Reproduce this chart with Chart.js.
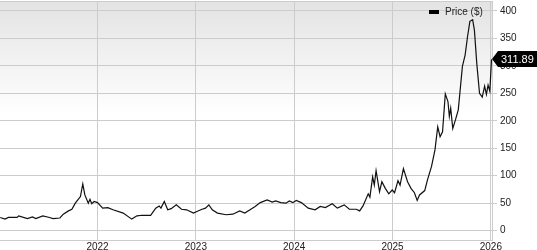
<!DOCTYPE html>
<html>
<head>
<meta charset="utf-8">
<script src="https://cdn.jsdelivr.net/npm/chart.js@4/dist/chart.umd.min.js"></script>
<style>
  html, body { margin: 0; padding: 0; background: #fff; }
</style>
</head>
<body>
<canvas id="priceChart" width="537" height="250"></canvas>
<script>
// Price history (decimal years)
const dates = [
  2021.01, 2021.059, 2021.094, 2021.181, 2021.199, 2021.286, 2021.338, 2021.373, 2021.443, 2021.512,
  2021.547, 2021.617, 2021.652, 2021.704, 2021.739, 2021.774, 2021.826, 2021.850, 2021.871, 2021.906,
  2021.923, 2021.941, 2021.965, 2022.000, 2022.052, 2022.105, 2022.157, 2022.261, 2022.348, 2022.401,
  2022.453, 2022.540, 2022.592, 2022.627, 2022.645, 2022.679, 2022.714, 2022.749, 2022.801, 2022.854,
  2022.906, 2022.976, 2023.010, 2023.063, 2023.098, 2023.132, 2023.167, 2023.220, 2023.307, 2023.376,
  2023.446, 2023.498, 2023.551, 2023.603, 2023.655, 2023.725, 2023.777, 2023.812, 2023.864, 2023.916,
  2023.951, 2023.986, 2024.021, 2024.073, 2024.143, 2024.213, 2024.265, 2024.317, 2024.387, 2024.439,
  2024.509, 2024.561, 2024.631, 2024.666, 2024.700, 2024.753, 2024.770, 2024.798, 2024.815, 2024.833,
  2024.868, 2024.892, 2024.927, 2024.962, 2024.997, 2025.021, 2025.056, 2025.077, 2025.111, 2025.153,
  2025.188, 2025.223, 2025.251, 2025.275, 2025.328, 2025.355, 2025.397, 2025.432, 2025.460, 2025.484,
  2025.509, 2025.537, 2025.564, 2025.578, 2025.592, 2025.613, 2025.641, 2025.669, 2025.711, 2025.739,
  2025.763, 2025.787, 2025.815, 2025.833, 2025.857, 2025.885, 2025.913, 2025.937, 2025.955, 2025.972,
  2025.990, 2026.007
];
const prices = [
  24, 21, 24, 24, 27, 22, 25, 22, 27, 24,
  22, 23, 30, 36, 39, 50, 62, 85, 65, 50,
  57, 49, 53, 51, 41, 42, 38, 32, 21, 27,
  28, 28, 41, 45, 41, 53, 38, 40, 47, 39,
  38, 32, 35, 39, 41, 47, 38, 32, 29, 30,
  36, 32, 38, 44, 51, 56, 52, 54, 51, 50,
  54, 51, 55, 51, 41, 38, 44, 42, 49, 41,
  47, 39, 39, 36, 45, 67, 61, 98, 83, 109,
  71, 89, 77, 67, 74, 69, 91, 83, 113, 89,
  77, 69, 55, 65, 73, 92, 117, 147, 189, 171,
  180, 249, 235, 208, 223, 186, 202, 220, 299, 320,
  353, 381, 384, 365, 305, 250, 243, 263, 248, 265,
  254, 311.89
];
const yearTicks = [2022, 2023, 2024, 2025, 2026];
const priceTicks = [0, 50, 100, 150, 200, 250, 300, 350, 400];
const seriesLabel = 'Price ($)';

const FONT = 'Liberation Sans, Arial, Helvetica, sans-serif';
const GRID = '#cccccc';

// gray-to-white gradient behind the plot
const plotBackground = {
  id: 'plotBackground',
  beforeDraw(chart) {
    const { ctx, chartArea: a } = chart;
    const g = ctx.createLinearGradient(0, a.top, 0, a.bottom);
    g.addColorStop(0, '#e3e3e3');
    g.addColorStop(0.47, '#ffffff');
    g.addColorStop(1, '#ffffff');
    ctx.save();
    ctx.fillStyle = g;
    ctx.fillRect(a.left, a.top, a.right - a.left, a.bottom - a.top);
    ctx.strokeStyle = GRID;
    ctx.lineWidth = 1;
    ctx.beginPath();
    ctx.moveTo(a.left, a.top + 0.5);
    ctx.lineTo(a.right, a.top + 0.5);
    ctx.stroke();
    ctx.restore();
  }
};

// legend in the top right corner and the last-price tag on the axis
const overlays = {
  id: 'overlays',
  afterDraw(chart) {
    const { ctx, chartArea: a } = chart;
    const y = chart.scales.y;
    ctx.save();

    // legend
    ctx.fillStyle = '#000';
    ctx.fillRect(429, 10, 10, 4);
    ctx.fillStyle = '#222';
    ctx.font = '10px ' + FONT;
    ctx.textBaseline = 'middle';
    ctx.textAlign = 'left';
    ctx.fillText(chart.data.datasets[0].label, 445, 12.5);

    // last value tag
    const last = prices[prices.length - 1];
    const py = Math.round(y.getPixelForValue(last));
    const x0 = a.right;
    ctx.fillStyle = '#000';
    ctx.beginPath();
    ctx.moveTo(x0, py);
    ctx.lineTo(x0 + 6, py - 8);
    ctx.lineTo(537, py - 8);
    ctx.lineTo(537, py + 8);
    ctx.lineTo(x0 + 6, py + 8);
    ctx.closePath();
    ctx.fill();
    ctx.fillStyle = '#fff';
    ctx.font = '11px ' + FONT;
    ctx.fillText(last.toFixed(2), x0 + 9, py + 0.5);
    ctx.restore();
  }
};

const ctx = document.getElementById('priceChart').getContext('2d');
const priceChart = new Chart(ctx, {
  type: 'line',
  data: {
    datasets: [{
      label: seriesLabel,
      data: dates.map((d, i) => ({ x: d, y: prices[i] })),
      borderColor: '#111',
      borderWidth: 1.2,
      pointRadius: 0,
      tension: 0,
      fill: false
    }]
  },
  options: {
    responsive: false,
    animation: false,
    layout: { padding: { top: 1, left: 0, right: 0, bottom: 0 } },
    plugins: {
      legend: { display: false },
      tooltip: { enabled: false }
    },
    scales: {
      x: {
        type: 'linear',
        min: 2021.008,
        max: 2026.012,
        afterBuildTicks: axis => { axis.ticks = yearTicks.map(v => ({ value: v })); },
        afterFit: axis => { axis.height = 10; axis.paddingLeft = 0; axis.paddingRight = 0; },
        grid: { color: GRID, drawTicks: false },
        border: { color: GRID },
        ticks: {
          padding: 1,
          maxRotation: 0,
          autoSkip: false,
          color: '#222',
          font: { family: FONT, size: 10 },
          callback: v => String(v)
        }
      },
      y: {
        type: 'linear',
        position: 'right',
        min: -17,
        max: 418,
        afterBuildTicks: axis => { axis.ticks = priceTicks.map(v => ({ value: v })); },
        afterFit: axis => { axis.width = 45; axis.paddingTop = 0; axis.paddingBottom = 0; },
        grid: { color: GRID, tickLength: 5 },
        border: { color: GRID },
        ticks: {
          padding: 3,
          color: '#222',
          font: { family: FONT, size: 10 },
          callback: v => String(v)
        }
      }
    }
  },
  plugins: [plotBackground, overlays]
});
</script>
</body>
</html>
